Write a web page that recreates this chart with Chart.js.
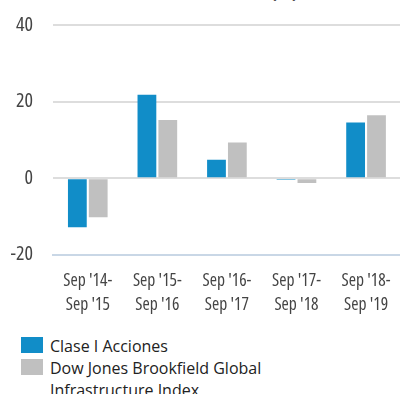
<!DOCTYPE html>
<html>
<head>
<meta charset="utf-8">
<script src="https://cdn.jsdelivr.net/npm/chart.js@4.4.1/dist/chart.umd.min.js"></script>
<style>
  html, body { margin: 0; padding: 0; background: #fff; }
  body { width: 400px; height: 394px; overflow: hidden; position: relative; }
  #title { position: absolute; left: 14px; top: -20px; font: bold 17px "Open Sans", sans-serif; color: #222; white-space: nowrap; }
  #wrap { position: absolute; left: 0; top: 0; width: 405px; height: 332px; }
  #legend { position: absolute; left: 21px; top: 335px; font: 16px "Open Sans", sans-serif; color: #222; }
  .item { display: flex; align-items: flex-start; line-height: 22px; }
  .swatch { width: 22px; height: 16px; margin-top: 2px; margin-right: 7px; flex: none; }
  .txt { width: 230px; }
</style>
</head>
<body>
<div id="title">Rendimientos totales anuales (%)</div>
<div id="wrap"><canvas id="c"></canvas></div>
<div id="legend"></div>
<script>
// Periods along the x axis (two-line labels)
const periods = [
  ["Sep '14-", "Sep '15"],
  ["Sep '15-", "Sep '16"],
  ["Sep '16-", "Sep '17"],
  ["Sep '17-", "Sep '18"],
  ["Sep '18-", "Sep '19"]
];
// Annual total returns, %
const claseI = [-12.8, 21.8, 4.8, -0.4, 14.5];
const djBrookfield = [-10.2, 15.2, 9.3, -1.3, 16.4];
const seriesNames = ["Clase I Acciones", "Dow Jones Brookfield Global Infrastructure Index"];
const yTicks = [-20, 0, 20, 40];

const colors = ["#118dc8", "#c0c0c0"];
const narrow = { weight: 400, family: '"Open Sans", sans-serif' };

// Axis labels use the condensed width of Open Sans: keep fontStretch
// applied every time the chart sets a font on this context.
const canvas = document.getElementById('c');
const ctx2d = canvas.getContext('2d');
const fontDesc = Object.getOwnPropertyDescriptor(CanvasRenderingContext2D.prototype, 'font');
Object.defineProperty(ctx2d, 'font', {
  configurable: true,
  get() { return fontDesc.get.call(this); },
  set(v) { fontDesc.set.call(this, v); if ('fontStretch' in this) this.fontStretch = 'condensed'; }
});

const chart = new Chart(canvas, {
  type: 'bar',
  data: {
    labels: periods,
    datasets: [
      { label: seriesNames[0], data: claseI, backgroundColor: colors[0] },
      { label: seriesNames[1], data: djBrookfield, backgroundColor: colors[1] }
    ]
  },
  options: {
    responsive: true,
    maintainAspectRatio: false,
    animation: false,
    layout: { padding: { top: 25, right: 0, bottom: 0, left: 0 } },
    plugins: { legend: { display: false }, tooltip: { enabled: false } },
    datasets: { bar: { categoryPercentage: 0.6, barPercentage: 0.9 } },
    scales: {
      x: {
        grid: { display: false, drawTicks: false },
        border: { display: true, color: '#c9d7e6', width: 2 },
        ticks: {
          color: '#444',
          padding: 14.5,
          maxRotation: 0,
          autoSkip: false,
          font: Object.assign({ size: 17.5, lineHeight: 1.38 }, narrow)
        }
      },
      y: {
        min: yTicks[0],
        max: yTicks[yTicks.length - 1],
        afterFit: (s) => { s.width = 53; s.paddingTop = 0; s.paddingBottom = 0; },
        afterBuildTicks: (s) => { s.ticks = yTicks.map(v => ({ value: v })); },
        grid: {
          drawTicks: false,
          color: (ctx) => ctx.tick && ctx.tick.value === yTicks[0] ? 'rgba(0,0,0,0)' : '#dddddd',
          lineWidth: 2
        },
        border: { display: false },
        ticks: {
          color: '#444',
          padding: 20,
          font: Object.assign({ size: 20 }, narrow)
        }
      }
    }
  }
});

// Legend built from the chart's datasets
const legend = document.getElementById('legend');
chart.data.datasets.forEach(ds => {
  const item = document.createElement('div');
  item.className = 'item';
  const sw = document.createElement('div');
  sw.className = 'swatch';
  sw.style.background = ds.backgroundColor;
  const t = document.createElement('div');
  t.className = 'txt';
  t.textContent = ds.label;
  item.appendChild(sw);
  item.appendChild(t);
  legend.appendChild(item);
});
</script>
</body>
</html>
